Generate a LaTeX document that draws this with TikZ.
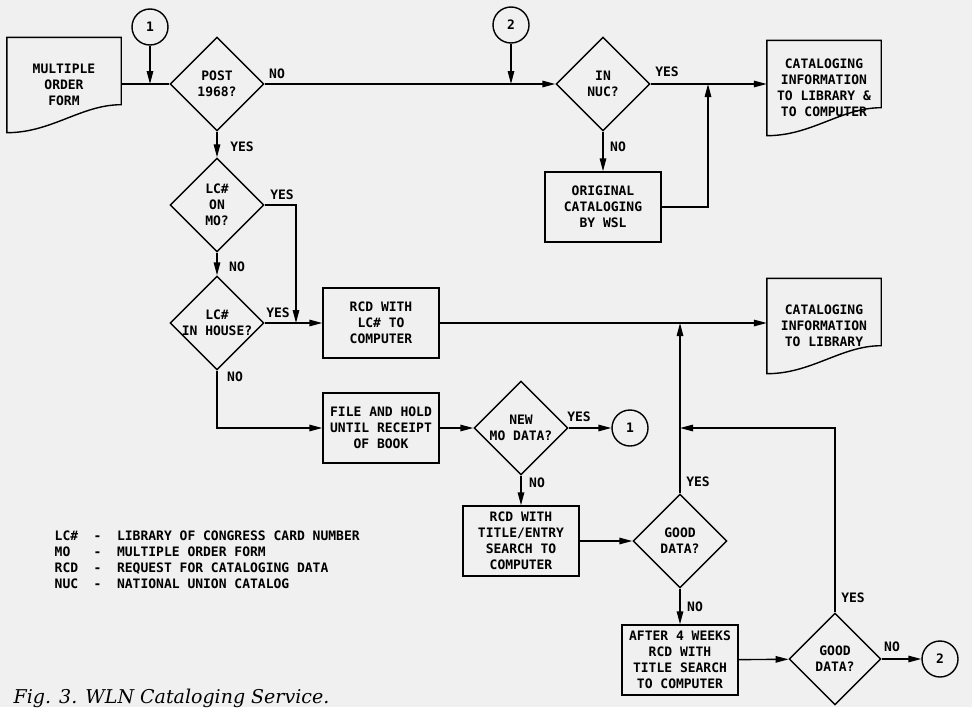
\documentclass[tikz,border=0pt]{standalone}
\usepackage{fontspec}
\newfontfamily\lettering{DejaVu Sans Mono}
\newfontfamily\captionfont{DejaVu Serif}
\usetikzlibrary{shapes.geometric,arrows.meta}
\begin{document}
\begin{tikzpicture}[x=1pt,y=-1pt,line width=1.4pt,
  >={Triangle[length=13pt,width=6.5pt]},
  every node/.style={font=\lettering\bfseries\fontsize{13}{16}\selectfont},
  box/.style={draw,rectangle,minimum width=116pt,minimum height=70pt,align=center,inner sep=0pt},
  ask/.style={draw,diamond,minimum width=94pt,minimum height=94pt,align=center,inner sep=-5pt},
  link/.style={draw,circle,minimum size=36pt,inner sep=0pt},
  docform/.style={minimum width=113pt,minimum height=94pt,align=center,
    append after command={\pgfextra{\draw (\tikzlastnode.north west) -- (\tikzlastnode.north east)
      -- ([yshift=28pt]\tikzlastnode.south east)
      .. controls ([xshift=-40pt,yshift=28pt]\tikzlastnode.south east) and ([xshift=45pt]\tikzlastnode.south west)
      .. (\tikzlastnode.south west) -- cycle;}}},
  tag/.style={inner sep=0pt}]
\fill[black!6] (0,0) rectangle (972,707);
\useasboundingbox (0,0) rectangle (972,707);

\node[docform] (mof) at (64,85) {MULTIPLE\\ORDER\\FORM};
\node[link] (one) at (150,27) {1};
\node[ask] (post) at (217,84) {POST\\1968?};
\node[link] (two) at (511,25) {2};
\node[ask] (nuc) at (603,84) {IN\\NUC?};
\node[docform] (tocomp) at (824,88) {CATALOGING\\INFORMATION\\TO LIBRARY \&\\TO COMPUTER};
\node[box] (orig) at (603,207) {ORIGINAL\\CATALOGING\\BY WSL};
\node[ask] (onmo) at (217,205) {LC\#\\ON\\MO?};
\node[ask] (house) at (217,323) {LC\#\\IN HOUSE?};
\node[box] (rcdlc) at (381,323) {RCD WITH\\LC\# TO\\COMPUTER};
\node[docform] (tolib) at (824,326) {CATALOGING\\INFORMATION\\TO LIBRARY};
\node[box] (hold) at (381,428) {FILE AND HOLD\\UNTIL RECEIPT\\OF BOOK};
\node[ask] (newmo) at (521,428) {NEW\\MO DATA?};
\node[link] (oneb) at (630,428) {1};
\node[box] (rcdtitle) at (521,541) {RCD WITH\\TITLE/ENTRY\\SEARCH TO\\COMPUTER};
\node[ask] (gooda) at (680,541) {GOOD\\DATA?};
\node[box] (after) at (680,660) {AFTER 4 WEEKS\\RCD WITH\\TITLE SEARCH\\TO COMPUTER};
\node[ask,minimum width=92pt,minimum height=92pt] (goodb) at (835,659) {GOOD\\DATA?};
\node[link] (twob) at (940,659) {2};
\coordinate (upa) at (708,84);
\coordinate (downa) at (296,323);

\node[tag] (no1) at (277,74) {NO};
\node[tag] (yes1) at (242,147) {YES};
\node[tag] (yes2) at (282,195) {YES};
\node[tag] (no2) at (237,267) {NO};
\node[tag] (yes3) at (278,313) {YES};
\node[tag] (no3) at (235,377) {NO};
\node[tag] (yes4) at (667,72) {YES};
\node[tag] (no4) at (618,147) {NO};
\node[tag] (yes5) at (579,417) {YES};
\node[tag] (no5) at (537,483) {NO};
\node[tag] (yes6) at (698,482) {YES};
\node[tag] (no6) at (695,607) {NO};
\node[tag] (yes7) at (853,598) {YES};
\node[tag] (no7) at (892,647) {NO};

\draw (mof.east |- post.west) -- (post.west);
\draw[->] (one) -- (one |- post.west);
\draw[->] (post) -- (nuc);
\draw[->] (two) -- (two |- nuc.west);
\draw[->] (nuc.east) -- (nuc.east -| tocomp.west);
\draw[->] (nuc) -- (orig);
\draw[->] (orig.east) -| (upa);
\draw[->] (post) -- (onmo);
\draw[->] (onmo.east) -| (downa);
\draw[->] (onmo) -- (house);
\draw[->] (house) -- (rcdlc);
\draw[->] (rcdlc.east) -- (rcdlc.east -| tolib.west);
\draw[->] (house.south) |- (hold.west);
\draw[->] (hold) -- (newmo);
\draw[->] (newmo) -- (oneb);
\draw[->] (newmo) -- (rcdtitle);
\draw[->] (rcdtitle) -- (gooda);
\draw[->] (gooda.north) -- (gooda.north |- rcdlc.east);
\draw[->] (goodb.north) |- (gooda.north |- hold.east);
\draw[->] (gooda) -- (after);
\draw[->] (after) -- (goodb);
\draw[->] (goodb) -- (twob);

\node[anchor=north west,inner sep=0pt] (legend) at (54,529) {\begin{tabular}{@{}p{39pt}@{}p{23.4pt}@{}l@{}}
LC\# & - & LIBRARY OF CONGRESS CARD NUMBER\\
MO & - & MULTIPLE ORDER FORM\\
RCD & - & REQUEST FOR CATALOGING DATA\\
NUC & - & NATIONAL UNION CATALOG
\end{tabular}};
\node[anchor=base west,inner sep=0pt,font=\captionfont\itshape\fontsize{19}{21}\selectfont] (caption) at (13,703) {Fig. 3. WLN Cataloging Service.};
\end{tikzpicture}
\end{document}
